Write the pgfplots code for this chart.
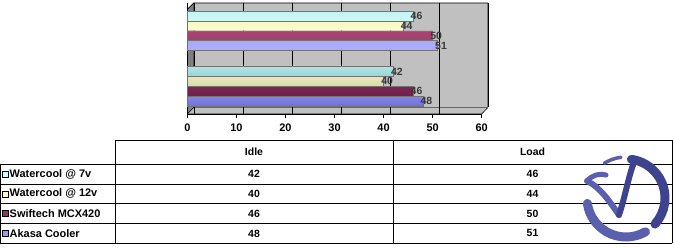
\documentclass[border=0pt]{standalone}
\usepackage{pgfplots}
\pgfplotsset{compat=1.18}
\usepackage{fontspec}
\setmainfont{Liberation Sans}[BoldFont={Liberation Sans Bold}]
\definecolor{bgGray}{HTML}{C0C0C0}
\definecolor{wallGray}{HTML}{808080}
\definecolor{cyT}{HTML}{C4F4F4}\definecolor{cyM}{HTML}{E6FFFF}\definecolor{cyB}{HTML}{98D6D6}
\definecolor{yeT}{HTML}{F8F8C4}\definecolor{yeM}{HTML}{FFFFE4}\definecolor{yeB}{HTML}{DCDCA8}
\definecolor{maT}{HTML}{A84474}\definecolor{maM}{HTML}{993366}\definecolor{maB}{HTML}{70204A}
\definecolor{blT}{HTML}{A8A8FF}\definecolor{blM}{HTML}{B8B8FF}\definecolor{blB}{HTML}{7070DC}
\definecolor{cyL}{HTML}{CCFFFF}\definecolor{yeL}{HTML}{FFFFCC}\definecolor{maL}{HTML}{993366}\definecolor{blL}{HTML}{9999FF}
\definecolor{logoC}{HTML}{5A5FAE}
\definecolor{logoD}{HTML}{3E4390}
\begin{document}
\begin{tikzpicture}[x=1bp,y=1bp]
\useasboundingbox (0,0) rectangle (674,247);
% chart walls
\filldraw[fill=bgGray, draw=black, line width=0.6bp]
  (187.3,133) -- (187.3,237.5) -- (193.8,244) -- (487.8,244) -- (487.8,139.5) -- (481.7,133) -- cycle;
\filldraw[fill=wallGray, draw=black, line width=0.5bp]
  (187.3,133) -- (187.3,237.5) -- (193.8,244) -- (193.8,139.5) -- cycle;
\draw[black!60, line width=0.5bp] (193.8,139.5) -- (487.8,139.5);
\begin{axis}[
  at={(187.3bp,133bp)}, anchor=south west,
  scale only axis, width=294.4bp, height=111bp,
  xmin=0, xmax=60, ymin=-0.5, ymax=1.5,
  axis x line*=bottom, axis y line*=left,
  axis line style={-, black, line width=0.6bp},
  xtick={0,10,20,30,40,50,60}, ytick=\empty,
  tick align=outside, major tick length=4bp,
  tick style={black, line width=0.6bp},
  xmajorgrids,
  major grid style={black, line width=0.6bp, xshift=6.5bp, shorten <=6.5bp},
  /pgf/number format/assume math mode=true,
  ticklabel style={font=\bfseries\fontsize{11}{13}\selectfont, yshift=-2bp},
  point meta=x,
  nodes near coords,
  every node near coord/.append style={font=\bfseries\fontsize{10.5}{12}\selectfont, text=black!78, anchor=center, xshift=3.5bp, inner sep=0pt},
  clip=false,
]
% y = group (0 Idle, 1 Load) + series offset
\addplot[xbar, bar width=9.85bp, bar shift=0pt, draw=black!55, line width=0.4bp,
  top color=cyT, bottom color=cyB, middle color=cyM] coordinates {(42,0.2663) (46,1.2663)};
\addplot[xbar, bar width=9.85bp, bar shift=0pt, draw=black!55, line width=0.4bp,
  top color=yeT, bottom color=yeB, middle color=yeM] coordinates {(40,0.0888) (44,1.0888)};
\addplot[xbar, bar width=9.85bp, bar shift=0pt, draw=black!55, line width=0.4bp,
  top color=maT, bottom color=maB, middle color=maM] coordinates {(46,-0.0888) (50,0.9112)};
\addplot[xbar, bar width=9.85bp, bar shift=0pt, draw=black!55, line width=0.4bp,
  top color=blT, bottom color=blB, middle color=blM] coordinates {(48,-0.2663) (51,0.7337)};
\end{axis}
% data table
\begin{scope}[line width=0.7bp]
\draw (115,107) -- (672,107);
\foreach \yy in {83,63,43.5,23.5,3.7} {\draw (0.5,\yy) -- (672,\yy);}
\draw (0.5,83) -- (0.5,3.7);
\draw (115,107) -- (115,3.7);
\draw (393,107) -- (393,3.7);
\draw (672,107) -- (672,3.7);
\end{scope}
\begin{scope}[font=\bfseries\fontsize{10.5}{12}\selectfont]
\node at (254,95) {Idle};
\node at (532.5,95) {Load};
\node at (254,73) {42};   \node at (532.5,73) {46};
\node at (254,53.25) {40}; \node at (532.5,53.25) {44};
\node at (254,33.5) {46}; \node at (532.5,33.5) {50};
\node at (254,13.6) {48}; \node at (532.5,13.6) {51};
\end{scope}
\begin{scope}[font=\bfseries\fontsize{11}{13}\selectfont]
\filldraw[fill=cyL, draw=black, line width=0.5bp] (2,70) rectangle (8,76);
\node[anchor=west, inner sep=0pt] at (9.5,73) {Watercool @ 7v};
\filldraw[fill=yeL, draw=black, line width=0.5bp] (2,50.25) rectangle (8,56.25);
\node[anchor=west, inner sep=0pt] at (9.5,53.25) {Watercool @ 12v};
\filldraw[fill=maL, draw=black, line width=0.5bp] (2,30.5) rectangle (8,36.5);
\node[anchor=west, inner sep=0pt] at (9.5,33.5) {Swiftech MCX420};
\filldraw[fill=blL, draw=black, line width=0.5bp] (2,10.6) rectangle (8,16.6);
\node[anchor=west, inner sep=0pt] at (9.5,13.6) {Akasa Cooler};
\end{scope}
% logo watermark
\begin{scope}[line cap=round, logoC]
\draw[line width=3.5bp] ([shift={(122:41)}]626,49) arc (122:97:41);
\draw[line width=9bp, logoD] ([shift={(82:39)}]626,49) arc (82:-42:39);
\draw[line width=9bp] ([shift={(-60:39)}]626,49) arc (-60:-172:39);
\draw[line width=6bp, line join=round] (587,66) .. controls (600,60) and (610,45) .. (619,32);
\draw[line width=6bp, line join=round, logoD] (619,32) .. controls (625,50) and (628,68) .. (633,82);
\draw[line width=5bp] (587,66) .. controls (592,72) and (600,74) .. (606,72);
\end{scope}
\end{tikzpicture}
\end{document}
